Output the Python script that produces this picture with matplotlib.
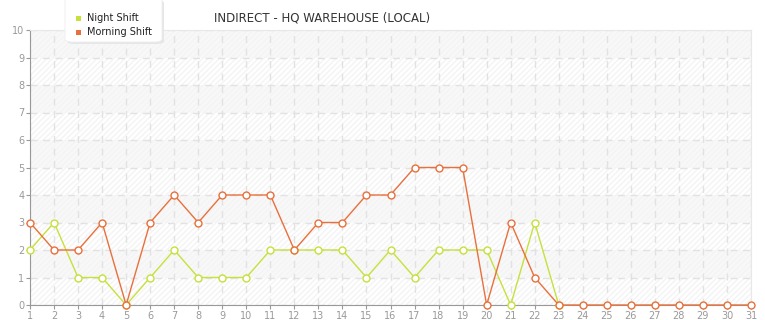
import numpy as np
import matplotlib
matplotlib.use("Agg")
import matplotlib.pyplot as plt
from matplotlib.patches import FancyBboxPatch

days = list(range(1, 32))
night_days = list(range(1, 24))
night_shift = [2, 3, 1, 1, 0, 1, 2, 1, 1, 1, 2, 2, 2, 2, 1, 2, 1, 2, 2, 2, 0, 3, 0]
morning_shift = [3, 2, 2, 3, 0, 3, 4, 3, 4, 4, 4, 2, 3, 3, 4, 4, 5, 5, 5, 0, 3, 1, 0,
                 0, 0, 0, 0, 0, 0, 0, 0]
y_ticks = list(range(0, 11))

GREEN = "#c8e03c"
ORANGE = "#e8703c"

fig = plt.figure(figsize=(7.65, 3.2), dpi=100)
ax = fig.add_axes([30 / 765, 15 / 320, 721 / 765, 275 / 320])

ax.set_xlim(1, 31)
ax.set_ylim(0, 10)

# alternating bands + light hatch
for y0 in range(0, 10):
    if y0 % 2 == 1:
        ax.axhspan(y0, y0 + 1, facecolor="#f8f8f8", edgecolor="none", zorder=0)
ax.add_patch(plt.Rectangle((1, 0), 30, 10, facecolor="none", edgecolor="#f4f4f4",
                           hatch="//////", linewidth=0, zorder=0.5))

ax.grid(True, color="#e2e2e2", linestyle=(0, (5, 4)), linewidth=1, zorder=1)
ax.set_axisbelow(True)

ax.plot(night_days, night_shift, color=GREEN, linewidth=1, marker="o", markersize=5,
        markerfacecolor="white", markeredgecolor=GREEN, markeredgewidth=1, zorder=3,
        clip_on=False, label="Night Shift")
ax.plot(days, morning_shift, color=ORANGE, linewidth=1, marker="o", markersize=5,
        markerfacecolor="white", markeredgecolor=ORANGE, markeredgewidth=1, zorder=4,
        clip_on=False, label="Morning Shift")

ax.set_xticks(days)
ax.set_yticks(y_ticks)
ax.tick_params(axis="both", labelsize=7, colors="#999999", length=3, width=0.8,
               pad=1)
ax.tick_params(axis="x", pad=1.5)
for s in ["top", "right"]:
    ax.spines[s].set_color("#e8e8e8")
for s in ["left", "bottom"]:
    ax.spines[s].set_color("#999999")

fig.text(322 / 765, 1 - 18 / 320, "INDIRECT - HQ WAREHOUSE (LOCAL)", ha="center",
         va="center", fontsize=8.5, color="#333333")

# legend box
shadow = FancyBboxPatch((67 / 765, 1 - 44 / 320), 97 / 765, 44 / 320,
                        boxstyle="round,pad=0,rounding_size=0.01",
                        transform=fig.transFigure, facecolor="#e6e6e6",
                        edgecolor="none", zorder=5)
box = FancyBboxPatch((65 / 765, 1 - 42 / 320), 97 / 765, 44 / 320,
                     boxstyle="round,pad=0,rounding_size=0.01",
                     transform=fig.transFigure, facecolor="white",
                     edgecolor="#eeeeee", linewidth=0.6, zorder=6)
fig.patches.extend([shadow, box])
for i, (lab, col) in enumerate([("Night Shift", GREEN), ("Morning Shift", ORANGE)]):
    yy = 1 - (18 + 14 * i) / 320
    fig.patches.append(plt.Rectangle((76 / 765, yy - 2.5 / 320), 5 / 765, 5 / 320,
                                     transform=fig.transFigure, facecolor=col,
                                     edgecolor="none", zorder=7))
    fig.text(87 / 765, yy, lab, ha="left", va="center", fontsize=7,
             color="#222222", zorder=8)

fig.savefig("out.png", dpi=100)
